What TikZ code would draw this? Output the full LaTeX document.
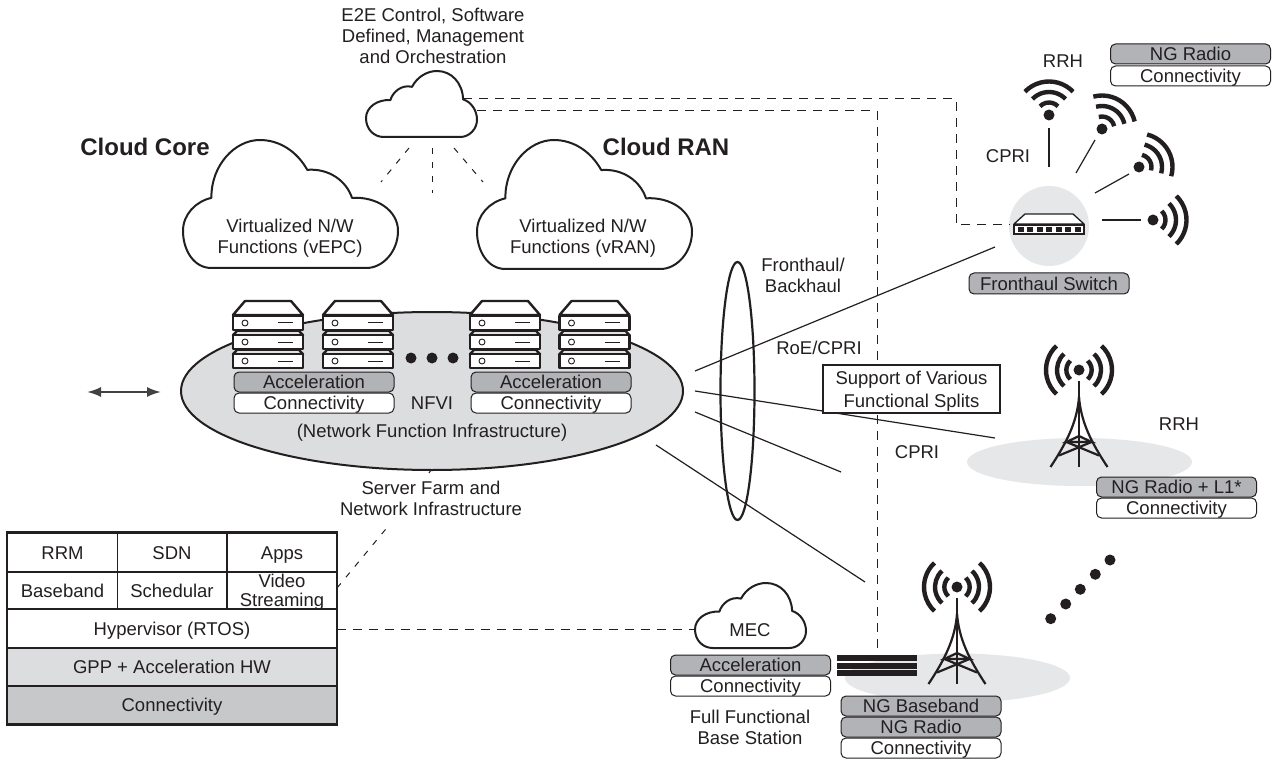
\documentclass[tikz,border=0pt]{standalone}
\usepackage{fontspec}
\setmainfont{Liberation Sans}
\usetikzlibrary{shapes.geometric,arrows.meta}
\definecolor{ink}{HTML}{231F20}
\definecolor{softgray}{HTML}{E6E7E8}
\definecolor{nfvigray}{HTML}{DCDDDE}
\definecolor{boxgray}{HTML}{B1B3B6}
\definecolor{rowgray}{HTML}{C7C8CA}
\tikzset{
  lbl/.style={inner sep=0pt,align=center,text=ink,font=\fontsize{18.5}{21}\selectfont},
  headlbl/.style={inner sep=0pt,text=ink,font=\fontsize{24}{28}\selectfont\bfseries},
  stackbox/.style={rectangle,rounded corners=5pt,draw=ink,line width=1pt,minimum width=160pt,minimum height=20pt,inner sep=0pt,text=ink,text height=13.2pt,text depth=0pt,font=\fontsize{18.5}{21}\selectfont},
  accelbox/.style={stackbox,fill=boxgray},
  connbox/.style={stackbox,fill=white},
  cell/.style={rectangle,draw=ink,line width=1.1pt,inner sep=0pt,text=ink,text height=13.2pt,text depth=0pt,font=\fontsize{18.5}{19}\selectfont},
  patch/.style={ellipse,fill=softgray,inner sep=0pt},
  cloudline/.style={draw=ink,line width=2pt,fill=white,line join=round},
  ctrl/.style={draw=ink,line width=1pt,dash pattern=on 9pt off 7pt},
  ctrlshort/.style={draw=ink,line width=1pt,dash pattern=on 6pt off 8pt},
  link/.style={draw=ink,line width=1.2pt},
  srv/.style={draw=ink,line width=2.4pt,fill=white,line join=round},
  wave/.style={draw=ink,line width=4.4pt},
  blackdot/.style={circle,fill=ink,inner sep=0pt,minimum size=11pt},
  barline/.style={fill=ink,draw=none},
}
% large cloud: x0 y0 width height
\newcommand{\bigcloud}[4]{\begin{scope}[shift={(#1,#2)},x=#3pt,y=-#4pt]
\path[cloudline] (.132,1) .. controls (.05,1) and (0,.86) .. (0,.71) .. controls (0,.58) and (.06,.48) .. (.132,.452)
 .. controls (.13,.2) and (.24,0) .. (.357,0) .. controls (.45,0) and (.53,.09) .. (.578,.233)
 .. controls (.68,.22) and (.76,.32) .. (.786,.452) .. controls (.90,.44) and (1,.55) .. (1,.71)
 .. controls (1,.87) and (.93,1) .. (.853,1) -- cycle;
\end{scope}}
% small cloud
\newcommand{\smallcloud}[4]{\begin{scope}[shift={(#1,#2)},x=#3pt,y=-#4pt]
\path[cloudline] (.16,1) .. controls (.07,1) and (0,.88) .. (0,.715) .. controls (0,.55) and (.1,.43) .. (.22,.44)
 .. controls (.24,.32) and (.32,.2) .. (.415,.24) .. controls (.46,.09) and (.55,0) .. (.64,0)
 .. controls (.77,0) and (.87,.18) .. (.875,.43) .. controls (.95,.47) and (1,.6) .. (1,.74)
 .. controls (1,.88) and (.93,1) .. (.85,1) -- cycle;
\end{scope}}
% server stack at left x
\newcommand{\serverstack}[1]{\begin{scope}[shift={(#1,0)}]
\path[srv] (0,315) -- (12,301) -- (58,301) -- (70,315) -- cycle;
\path[srv] (0,335) -- (4,331) -- (66,331) -- (70,335) -- cycle;
\path[srv] (0,354) -- (4,350) -- (66,350) -- (70,354) -- cycle;
\foreach \yy in {316,335,354}{
  \path[srv] (0,\yy) rectangle (70,\yy+14);
  \draw[ink,line width=.9pt,fill=white] (12,\yy+7) circle[radius=3pt];
  \draw[ink,line width=1pt] (45,\yy+7) -- (60,\yy+7);
}
\end{scope}}
% radio waves: x y direction-angle halfangle
\newcommand{\wavearc}[5]{\draw[wave] (#1,#2) ++(#3-#4:#5pt) arc[start angle=#3-#4,end angle=#3+#4,radius=#5pt];}
\newcommand{\wifi}[3]{\node[blackdot] at (#1,#2) {};
 \wavearc{#1}{#2}{#3}{46}{12.5}\wavearc{#1}{#2}{#3}{46}{23}\wavearc{#1}{#2}{#3}{46}{33.5}}
\newcommand{\tower}[2]{\node[blackdot] at (#1,#2-97) {};
 \foreach \dd in {0,180}{\wavearc{#1}{#2-97}{\dd}{47}{12.7}\wavearc{#1}{#2-97}{\dd}{47}{22}\wavearc{#1}{#2-97}{\dd}{47}{33}}
 \begin{scope}[shift={(#1,#2)},draw=ink,line width=2.2pt]
 \draw (0,-86) -- (0,0);
 \draw (0,-70) .. controls (2,-45) and (12,-25) .. (28.5,0);
 \draw (0,-70) .. controls (-2,-45) and (-12,-25) .. (-28.5,0);
 \draw (-12.5,-25) -- (0,-31) -- (12.5,-25) -- cycle;
 \draw (-12.5,-25) -- (20,-11.5);
 \draw (12.5,-25) -- (-20,-11.5);
 \end{scope}}
\begin{document}
\begin{tikzpicture}[x=1pt,y=-1pt]
\useasboundingbox (0,0) rectangle (1277,759);
\fill[white] (0,0) rectangle (1277,759);
% free connector ends
\coordinate (ctlA) at (463,99);
\coordinate (ctlAa) at (956,99);
\coordinate (ctlAb) at (956,225);
\coordinate (ctlAc) at (1010,225);
\coordinate (ctlB) at (477,111);
\coordinate (ctlBa) at (877,111);
\coordinate (ctlBb) at (877,655);
\coordinate (d1a) at (409,148); \coordinate (d1b) at (381,182);
\coordinate (d2a) at (432,148); \coordinate (d2b) at (432,193);
\coordinate (d3a) at (454,148); \coordinate (d3b) at (483,182);
\coordinate (fa) at (695,371); \coordinate (fb) at (995,247);
\coordinate (ga) at (695,391); \coordinate (gb) at (995,438);
\coordinate (ha) at (695,412); \coordinate (hb) at (841,472);
\coordinate (ia) at (656,445); \coordinate (ib) at (865,582);
\coordinate (tabA) at (337,588); \coordinate (tabB) at (390,524);
\coordinate (hyp) at (337,629); \coordinate (mecL) at (695,629);
\coordinate (arL) at (87,392); \coordinate (arR) at (161,392);
\coordinate (tickA) at (431,470); \coordinate (tickB) at (429,473);
% grey patches
\node[patch,minimum width=225pt,minimum height=48pt] (patchA) at (1079.5,462) {};
\node[patch,minimum width=225pt,minimum height=49pt] (patchB) at (957.5,678) {};
\node[circle,fill=softgray,inner sep=0pt,minimum size=80pt] (swdisc) at (1049,226) {};
% control lines
\path[ctrl] (ctlA) -- (ctlAa) -- (ctlAb) -- (ctlAc);
\path[ctrl] (ctlB) -- (ctlBa) -- (ctlBb);
\path[ctrlshort] (d1a) -- (d1b);
\path[ctrlshort] (d2a) -- (d2b);
\path[ctrlshort] (d3a) -- (d3b);
\path[ctrlshort] (tabA) -- (tabB);
\path[ctrl] (hyp) -- (mecL);
\draw[ink,line width=1pt] (tickA) -- (tickB);
% left arrow
\draw[ink!85,line width=2pt,{Latex[length=14pt,width=10pt]}-{Latex[length=14pt,width=10pt]}] (arL) -- (arR);
% clouds
\bigcloud{183}{140}{215}{128}
\bigcloud{477}{140}{215}{129}
\smallcloud{366}{71}{111}{66}
\smallcloud{695}{583}{111}{65}
\node[lbl] (coreT) at (290,238.5) {Virtualized N/W\\Functions (vEPC)};
\node[lbl] (ranT) at (583,238.5) {Virtualized N/W\\Functions (vRAN)};
\node[lbl] (mecT) at (750,630) {MEC};
\node[lbl] (e2e) at (433,35.5) {E2E Control, Software\\Defined, Management\\and Orchestration};
\node[headlbl] (coreH) at (145,147) {Cloud Core};
\node[headlbl] (ranH) at (666,147) {Cloud RAN};
% NFVI
\node[ellipse,draw=ink,line width=2pt,fill=nfvigray,inner sep=0pt,minimum width=502pt,minimum height=158pt] (nfvi) at (432,391) {};
\serverstack{233}\serverstack{323}\serverstack{470}\serverstack{559.5}
\foreach \xx in {411,432,453}{\node[blackdot] at (\xx,358) {};}
\node[accelbox] (ac1) at (314,382) {Acceleration};
\node[connbox] (co1) at (314,403) {Connectivity};
\node[accelbox] (ac2) at (551,382) {Acceleration};
\node[connbox] (co2) at (551,403) {Connectivity};
\node[lbl] (nfviT) at (432,403) {NFVI};
\node[lbl] (nfviL) at (432,433) {(Network Function Infrastructure)};
\node[lbl] (farm) at (431,498) {Server Farm and\\Network Infrastructure};
% fronthaul ring and links
\path[link] (fa) -- (fb);
\path[link] (ga) -- (gb);
\path[link] (ha) -- (hb);
\path[link] (ia) -- (ib);
\node[ellipse,draw=ink,line width=2.2pt,inner sep=0pt,minimum width=34pt,minimum height=258pt] (ring) at (737.5,391) {};
\node[lbl] (fh) at (803,275.5) {Fronthaul/\\Backhaul};
\node[lbl] (roe) at (819,348) {RoE/CPRI};
\node[rectangle,draw=ink,line width=1.1pt,fill=white,minimum width=177pt,minimum height=48pt,inner sep=0pt,align=center,text=ink,font=\fontsize{18.5}{22.5}\selectfont,yshift=0pt] (splits) at (911.5,389) {};
\node[lbl,font=\fontsize{18.5}{22.5}\selectfont] (splitsT) at (911.5,391) {Support of Various\\Functional Splits};
\node[lbl] (cpriB) at (917,452) {CPRI};
% switch and wifi
\coordinate (w1a) at (1049,167); \coordinate (w1b) at (1049,128);
\coordinate (w2a) at (1076,173); \coordinate (w2b) at (1095,140);
\coordinate (w3a) at (1095,193); \coordinate (w3b) at (1129,174);
\coordinate (w4a) at (1102,220); \coordinate (w4b) at (1141,220);
\path[link] (w1a) -- (w1b);
\path[link] (w2a) -- (w2b);
\path[link] (w3a) -- (w3b);
\path[link] (w4a) -- (w4b);
\wifi{1049}{115}{90}
\wifi{1102}{129}{59}
\wifi{1139}{167}{30}
\wifi{1153}{220}{0}
\draw[ink,line width=1.3pt,fill=white,line join=round] (1014,224) -- (1025,214) -- (1073,214) -- (1084,224) -- cycle;
\draw[ink,line width=1.3pt,fill=white] (1014,225) rectangle (1084,234);
\foreach \k in {0,...,6}{\fill[ink] (1017.7+\k*9.5,227) rectangle ++(6,5);}
\node[accelbox,minimum height=21pt] (fsw) at (1049,283.5) {Fronthaul Switch};
\node[lbl] (cpriT) at (1008,156) {CPRI};
\node[lbl] (rrhT) at (1063,61) {RRH};
\node[accelbox] (ngT) at (1190.5,54) {NG Radio};
\node[connbox] (coT) at (1190.5,76) {Connectivity};
% middle tower
\tower{1079}{467}
\node[lbl] (rrhM) at (1179,424) {RRH};
\node[accelbox] (ngM) at (1176.5,487) {NG Radio + L1*};
\node[connbox] (coM) at (1176.5,508) {Connectivity};
% bottom tower
\tower{957}{684}
\fill[barline] (837,655) rectangle (917,661);
\fill[barline] (837,663) rectangle (917,669);
\fill[barline] (837,670) rectangle (917,676);
\node[accelbox] (acB) at (750.5,665) {Acceleration};
\node[connbox] (coB) at (750.5,686) {Connectivity};
\node[lbl] (full) at (750,727) {Full Functional\\Base Station};
\node[accelbox] (ngb) at (921,706) {NG Baseband};
\node[accelbox] (ngr) at (921,727) {NG Radio};
\node[connbox] (coN) at (921,748) {Connectivity};
\foreach \dx/\dy in {1050.7/618.7,1065.7/604,1080.3/589.3,1095.3/574.3,1110/560}{\node[blackdot] at (\dx,\dy) {};}
% stack table
\node[cell,fill=white,minimum width=110pt,minimum height=39pt] (rrm) at (62.5,552.5) {RRM};
\node[cell,fill=white,minimum width=109pt,minimum height=39pt] (sdn) at (172,552.5) {SDN};
\node[cell,fill=white,minimum width=110pt,minimum height=39pt] (apps) at (282,552.5) {Apps};
\node[cell,fill=white,minimum width=110pt,minimum height=37pt] (bb) at (62.5,590.5) {Baseband};
\node[cell,fill=white,minimum width=109pt,minimum height=37pt] (sched) at (172,590.5) {Schedular};
\node[cell,fill=white,minimum width=110pt,minimum height=37pt] (vid) at (282,590.5) {};
\node[lbl,font=\fontsize{18.5}{19}\selectfont] (vidT) at (282,592.5) {Video\\Streaming};
\node[cell,fill=white,minimum width=329pt,minimum height=39pt] (hv) at (172,628.5) {Hypervisor (RTOS)};
\node[cell,fill=nfvigray,minimum width=329pt,minimum height=38pt] (gpp) at (172,667) {GPP + Acceleration HW};
\node[cell,fill=rowgray,minimum width=329pt,minimum height=38pt] (conn) at (172,705) {Connectivity};
\draw[ink,line width=2.6pt] (rrm.north west) rectangle (conn.south east);
\end{tikzpicture}
\end{document}
